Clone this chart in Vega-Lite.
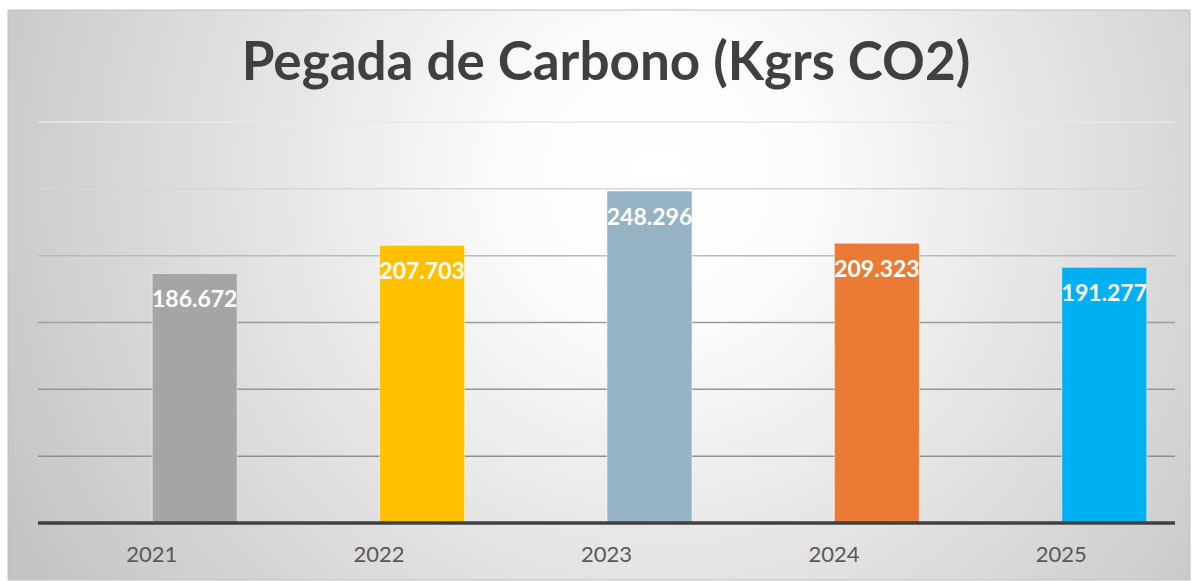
{
  "$schema": "https://vega.github.io/schema/vega-lite/v6.json",
  "width": 1182,
  "height": 570,
  "autosize": {"type": "none"},
  "padding": {"left": 8, "top": 10, "right": 8, "bottom": 1},
  "background": "#ffffff",
  "config": {
    "locale": {"number": {"decimal": ",", "thousands": ".", "grouping": [3], "currency": ["€", ""]}},
    "view": {"stroke": null},
    "font": "Lato"
  },
  "title": {
    "text": "Pegada de Carbono (Kgrs CO2)",
    "anchor": "middle",
    "fontSize": 53,
    "fontWeight": "bold",
    "color": "#404040",
    "font": "Lato",
    "baseline": "alphabetic",
    "offset": -123,
    "dx": 7
  },
  "datasets": {
    "emissions": [
      {"ano": "2021", "kg": 186672},
      {"ano": "2022", "kg": 207703},
      {"ano": "2023", "kg": 248296},
      {"ano": "2024", "kg": 209323},
      {"ano": "2025", "kg": 191277}
    ],
    "grid": [
      {"v": 50000}, {"v": 100000}, {"v": 150000}, {"v": 200000}, {"v": 250000}, {"v": 300000}
    ]
  },
  "data": {"name": "emissions"},
  "layer": [
    {
      "data": {"values": [{}]},
      "mark": {
        "type": "rect",
        "fill": {
          "gradient": "radial",
          "x1": 0.55, "y1": 0.4, "r1": 0,
          "x2": 0.55, "y2": 0.4, "r2": 0.62,
          "stops": [
            {"offset": 0, "color": "#ffffff"},
            {"offset": 0.2, "color": "#fcfcfc"},
            {"offset": 1, "color": "#c4c4c4"}
          ]
        },
        "stroke": "#c0c0c0",
        "strokeWidth": 1
      },
      "encoding": {}
    },
    {
      "data": {"name": "grid"},
      "mark": {"type": "rule", "strokeWidth": 1.5},
      "encoding": {
        "y": {"field": "v", "type": "quantitative", "scale": {"domain": [-42640, 383790], "nice": false, "zero": false}, "axis": null},
        "x": {"datum": "2021", "type": "nominal", "bandPosition": 0},
        "x2": {"datum": "2025", "bandPosition": 1},
        "stroke": {
          "field": "v", "type": "quantitative",
          "scale": {"domain": [50000, 150000, 250000, 300000], "range": ["#8f8f8f", "#9c9c9c", "#d6d6d6", "#e8e8e8"]},
          "legend": null
        }
      }
    },
    {
      "mark": {"type": "bar", "width": 85, "xOffset": 43, "stroke": "#ffffff", "strokeOpacity": 0.5, "strokeWidth": 1},
      "encoding": {
        "x": {
          "field": "ano", "type": "nominal",
          "scale": {"domain": ["2021", "2022", "2023", "2024", "2025"], "range": [30, 1167], "paddingInner": 0, "paddingOuter": 0},
          "axis": {"title": null, "domain": false, "ticks": false, "grid": false, "labelAngle": 0, "labelAlign": "center", "labelFontSize": 22, "labelColor": "#595959", "labelFont": "Lato", "offset": -57, "labelPadding": 31, "zindex": 2}
        },
        "y": {"field": "kg", "type": "quantitative", "scale": {"domain": [-42640, 383790], "nice": false, "zero": false}, "axis": null},
        "color": {
          "field": "ano", "type": "nominal",
          "scale": {"domain": ["2021", "2022", "2023", "2024", "2025"], "range": ["#a5a5a5", "#ffc000", "#95b3c5", "#eb7b34", "#00b0f0"]},
          "legend": null
        }
      }
    },
    {
      "mark": {"type": "text", "dx": 43, "dy": 27, "baseline": "middle", "align": "center", "fontSize": 23, "fontWeight": "bold", "color": "#ffffff", "font": "Lato"},
      "encoding": {
        "x": {"field": "ano", "type": "nominal"},
        "y": {"field": "kg", "type": "quantitative", "axis": null},
        "text": {"field": "kg", "type": "quantitative", "format": ",d"}
      }
    },
    {
      "data": {"values": [{}]},
      "mark": {"type": "rule", "color": "#404040", "strokeWidth": 3.5},
      "encoding": {
        "y": {"datum": 0, "type": "quantitative", "axis": null},
        "x": {"datum": "2021", "type": "nominal", "bandPosition": 0},
        "x2": {"datum": "2025", "bandPosition": 1}
      }
    }
  ]
}
